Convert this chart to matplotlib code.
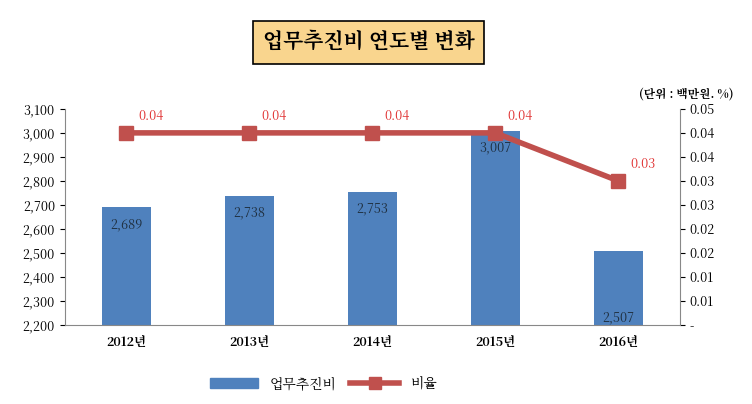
import matplotlib.pyplot as plt
from matplotlib import font_manager
from matplotlib.lines import Line2D
from matplotlib.patches import Patch
import numpy as np

# pick whatever CJK font is actually registered
cjk = [f.name for f in font_manager.fontManager.ttflist if 'CJK' in f.name]
kr = [n for n in cjk if 'KR' in n] or cjk
plt.rcParams['font.family'] = (kr[:1] if kr else []) + ['DejaVu Sans']

years = ['2012년', '2013년', '2014년', '2015년', '2016년']
cost = [2689, 2738, 2753, 3007, 2507]
rate = [0.0444, 0.0444, 0.0444, 0.0444, 0.0333]
rate_labels = ['0.04', '0.04', '0.04', '0.04', '0.03']
right_ticks = ['-', '0.01', '0.01', '0.02', '0.02', '0.03', '0.03', '0.04', '0.04', '0.05']

fig = plt.figure(figsize=(7.52, 4.04), dpi=100)
ax = fig.add_axes([0.086, 0.196, 0.818, 0.535])
x = np.arange(len(years))

ax.bar(x, cost, width=0.4, color='#4F81BD', zorder=2)
for xi, v in zip(x, cost):
    y = v - 70 if v > 2600 else 2230
    ax.text(xi, y, f'{v:,}', ha='center', va='center', fontsize=9, color='#1F2F3F')

ax.set_ylim(2200, 3100)
ax.set_yticks(range(2200, 3101, 100))
ax.set_yticklabels([f'{v:,}' for v in range(2200, 3101, 100)], fontsize=9)
ax.set_xlim(-0.5, 4.5)
ax.set_xticks(x)
ax.set_xticklabels(years, fontsize=9, fontweight='bold')
ax.tick_params(axis='x', length=0, pad=8)
for s in ['top', 'right']:
    ax.spines[s].set_visible(False)
ax.spines['left'].set_color('#888888')
ax.spines['bottom'].set_color('#888888')

ax2 = ax.twinx()
ax2.plot(x, rate, color='#C0504D', linewidth=4, marker='s', markersize=10, zorder=3)
for xi, v, lab in zip(x, rate, rate_labels):
    ax2.text(xi + 0.1, v + 0.0022, lab, ha='left', va='bottom', fontsize=9, color='#E03030')
ax2.set_ylim(0, 0.05)
ax2.set_yticks(np.linspace(0, 0.05, 10))
ax2.set_yticklabels(right_ticks, fontsize=9)
for s in ['top', 'left']:
    ax2.spines[s].set_visible(False)
ax2.spines['right'].set_color('#888888')
ax2.spines['bottom'].set_visible(False)

fig.text(0.49, 0.895, '업무추진비 연도별 변화', ha='center', va='center', fontsize=15,
         fontweight='bold', bbox=dict(boxstyle='square,pad=0.45', fc='#F9D58E', ec='black', lw=1.2))
fig.text(0.975, 0.765, '(단위 : 백만원. %)', ha='right', va='center', fontsize=8.5, fontweight='bold')

handles = [Patch(color='#4F81BD'), Line2D([], [], color='#C0504D', lw=4, marker='s', markersize=9)]
fig.legend(handles, ['업무추진비', '비율'], loc='center', bbox_to_anchor=(0.43, 0.05),
           ncol=2, frameon=False, fontsize=10, handlelength=3.5, columnspacing=1.0)

fig.savefig('out.png', dpi=100)
